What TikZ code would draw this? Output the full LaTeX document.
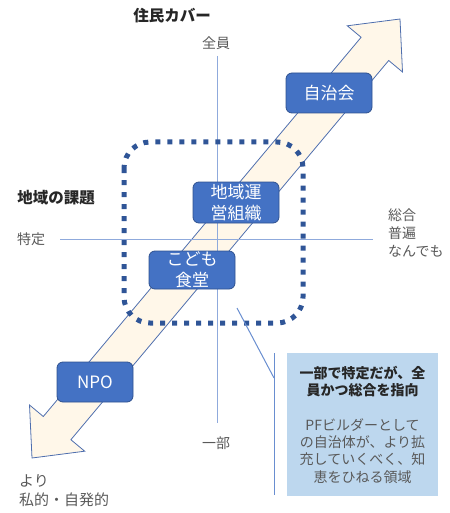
\documentclass[tikz,border=0pt]{standalone}
\usepackage{fontspec}
\setmainfont{Noto Sans CJK JP}
\definecolor{arrowfill}{HTML}{FFF7E9}
\definecolor{arrowline}{HTML}{4F6FAE}
\definecolor{boxfill}{HTML}{4472C4}
\definecolor{boxline}{HTML}{2F528F}
\definecolor{dotcol}{HTML}{2F5597}
\definecolor{axiscol}{HTML}{8FAADC}
\definecolor{notefill}{HTML}{BDD7EE}
\definecolor{graytext}{HTML}{595959}
\definecolor{darktext}{HTML}{262626}
\tikzset{
  bluebox/.style={draw=boxline, line width=0.8pt, fill=boxfill, rounded corners=6pt,
    text=white, font=\fontsize{17}{21}\selectfont, align=center, inner sep=0pt},
  axislbl/.style={text=graytext, font=\fontsize{14}{18}\selectfont, inner sep=0pt},
  titlelbl/.style={text=darktext, font=\bfseries\fontsize{15.5}{19}\selectfont, inner sep=0pt},
  axisline/.style={draw=axiscol, line width=1pt},
  notebox/.style={fill=notefill, minimum width=151pt, minimum height=143pt, inner sep=0pt},
  notehead/.style={text=darktext, font=\bfseries\fontsize{14}{17}\selectfont, align=center, inner sep=0pt},
  notebody/.style={text=graytext, font=\fontsize{14}{17.3}\selectfont, align=center, inner sep=0pt},
  callout/.style={draw=boxfill!80!white, line width=1pt}
}
\begin{document}
\begin{tikzpicture}[x=1pt,y=-1pt]
\useasboundingbox (0,0) rectangle (449,513);
% big double arrow
\draw[fill=arrowfill, draw=arrowline, line width=0.8pt, line join=miter]
  (400,19) -- (402.5,72) -- (388.7,60.5) -- (70.9,439.7) -- (84.7,451.2) -- (32,458)
  -- (29.5,405) -- (43.3,416.5) -- (361.1,37.3) -- (347.3,25.8) -- cycle;
% axes
\coordinate (vtop) at (217,56);
\coordinate (vbot) at (217,423);
\coordinate (hleft) at (60,239);
\coordinate (hright) at (373,239);
\draw[axisline] (vtop) -- (vbot);
\draw[axisline] (hleft) -- (hright);
% dotted region
\draw[dotcol, line width=5pt, dash pattern=on 5pt off 7pt, rounded corners=26pt]
  (124,142) rectangle (303,323);
% boxes
\node[bluebox, minimum width=86pt, minimum height=40pt] (jichikai) at (329,93) {自治会};
\node[bluebox, minimum width=86pt, minimum height=41pt] (chiiki) at (236,202.5) {地域運\\営組織};
\node[bluebox, minimum width=86pt, minimum height=38pt] (kodomo) at (192,270) {こども\\食堂};
\node[bluebox, minimum width=76pt, minimum height=40pt] (npo) at (95,382) {NPO};
% axis labels
\node[titlelbl] (ylabel) at (172,16) {住民カバー};
\node[titlelbl] (xlabel) at (56,198) {地域の課題};
\node[axislbl] (zenin) at (216,43) {全員};
\node[axislbl] (ichibu) at (216,443) {一部};
\node[axislbl] (tokutei) at (31,239) {特定};
\node[axislbl, anchor=north west, align=left] (sogo) at (388,209) {総合\\普遍\\なんでも};
\node[axislbl, anchor=north west, align=left, font=\fontsize{15}{19}\selectfont] (yori) at (19,474) {より\\私的・自発的};
% note box with callout
\node[notebox] (note) at (362.5,424.5) {};
\node[notehead] (notehd) at (362.5,381.5) {一部で特定だが、全\\員かつ総合を指向};
\node[notebody] (notebd) at (362.5,451) {PFビルダーとして\\の自治体が、より拡\\充していくべく、知\\恵をひねる領域};
\coordinate (ptr) at (237,308);
\coordinate (knee) at (274,378);
\coordinate (ctop) at (274,353);
\coordinate (cbot) at (274,495);
\draw[callout] (ptr) -- (knee);
\draw[callout] (ctop) -- (cbot);
\end{tikzpicture}
\end{document}
